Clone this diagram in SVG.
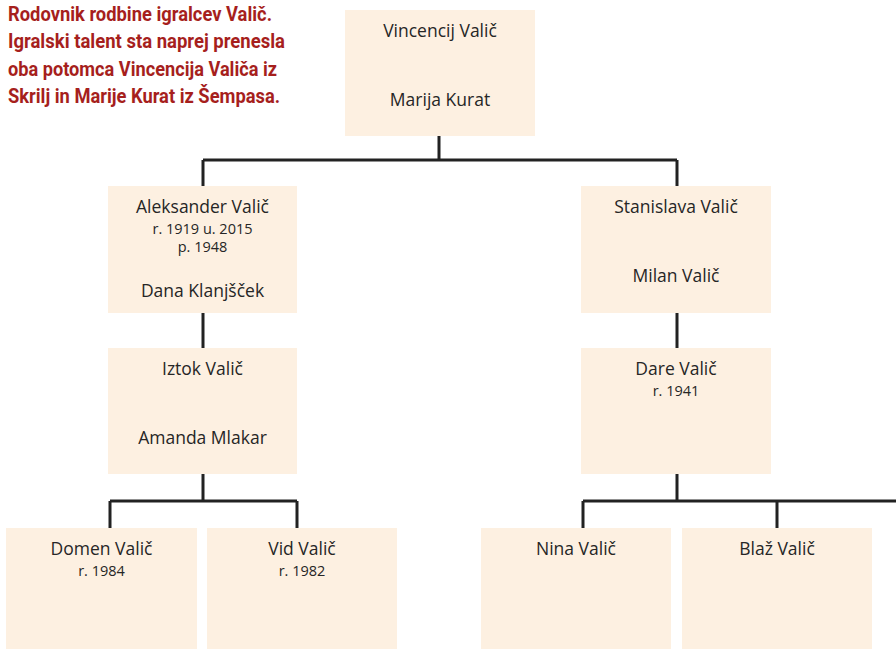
<svg xmlns="http://www.w3.org/2000/svg" width="896" height="649" viewBox="0 0 896 649">
<style>
.box{fill:#fdf0e1}
.nm{font-family:"Open Sans",Lato,"DejaVu Sans",sans-serif;font-size:17.5px;fill:#262626;text-anchor:middle}
.dt{font-family:"Open Sans",Lato,"DejaVu Sans",sans-serif;font-size:14.5px;fill:#262626;text-anchor:middle}
.ttl{font-family:Roboto,"Liberation Sans",sans-serif;font-weight:bold;font-size:21px;fill:#a61f1d}
.ln{fill:none;stroke:#222;stroke-width:3}
</style>
<rect width="896" height="649" fill="#fff"/>
<g id="title">
<text class="ttl" x="8" y="21" textLength="264" lengthAdjust="spacingAndGlyphs">Rodovnik rodbine igralcev Valič.</text>
<text class="ttl" x="8" y="48" textLength="277" lengthAdjust="spacingAndGlyphs">Igralski talent sta naprej prenesla</text>
<text class="ttl" x="8" y="75.5" textLength="269" lengthAdjust="spacingAndGlyphs">oba potomca Vincencija Valiča iz</text>
<text class="ttl" x="8" y="103" textLength="272" lengthAdjust="spacingAndGlyphs">Skrilj in Marije Kurat iz Šempasa.</text>
</g>
<g id="connectors">
<path class="ln" d="M439,136V160M203,160H677M203,160V186M677,160V186"/>
<path class="ln" d="M203,313V348M677,313V348"/>
<path class="ln" d="M203,474V501M110,501H297M110,501V528M297,501V528"/>
<path class="ln" d="M677,474V501M583,501H896M583,501V528M777,501V528"/>
</g>
<g id="vincencij">
<rect class="box" x="345" y="10" width="190" height="126"/>
<text class="nm" x="440" y="37">Vincencij Valič</text>
<text class="nm" x="440" y="106">Marija Kurat</text>
</g>
<g id="aleksander">
<rect class="box" x="108" y="186" width="189" height="127"/>
<text class="nm" x="202.5" y="213">Aleksander Valič</text>
<text class="dt" x="202.5" y="233.5">r. 1919 u. 2015</text>
<text class="dt" x="202.5" y="252">p. 1948</text>
<text class="nm" x="202.5" y="297">Dana Klanjšček</text>
</g>
<g id="stanislava">
<rect class="box" x="581" y="186" width="190" height="127"/>
<text class="nm" x="676" y="213">Stanislava Valič</text>
<text class="nm" x="676" y="281.5">Milan Valič</text>
</g>
<g id="iztok">
<rect class="box" x="108" y="348" width="189" height="126"/>
<text class="nm" x="202.5" y="375">Iztok Valič</text>
<text class="nm" x="202.5" y="444">Amanda Mlakar</text>
</g>
<g id="dare">
<rect class="box" x="581" y="348" width="190" height="126"/>
<text class="nm" x="676" y="375">Dare Valič</text>
<text class="dt" x="676" y="395.5">r. 1941</text>
</g>
<g id="domen">
<rect class="box" x="6" y="528" width="191" height="121"/>
<text class="nm" x="101.5" y="555">Domen Valič</text>
<text class="dt" x="101.5" y="575.5">r. 1984</text>
</g>
<g id="vid">
<rect class="box" x="207" y="528" width="190" height="121"/>
<text class="nm" x="302" y="555">Vid Valič</text>
<text class="dt" x="302" y="575.5">r. 1982</text>
</g>
<g id="nina">
<rect class="box" x="481" y="528" width="190" height="121"/>
<text class="nm" x="576" y="555">Nina Valič</text>
</g>
<g id="blaz">
<rect class="box" x="682" y="528" width="190" height="121"/>
<text class="nm" x="777" y="555">Blaž Valič</text>
</g>
</svg>
